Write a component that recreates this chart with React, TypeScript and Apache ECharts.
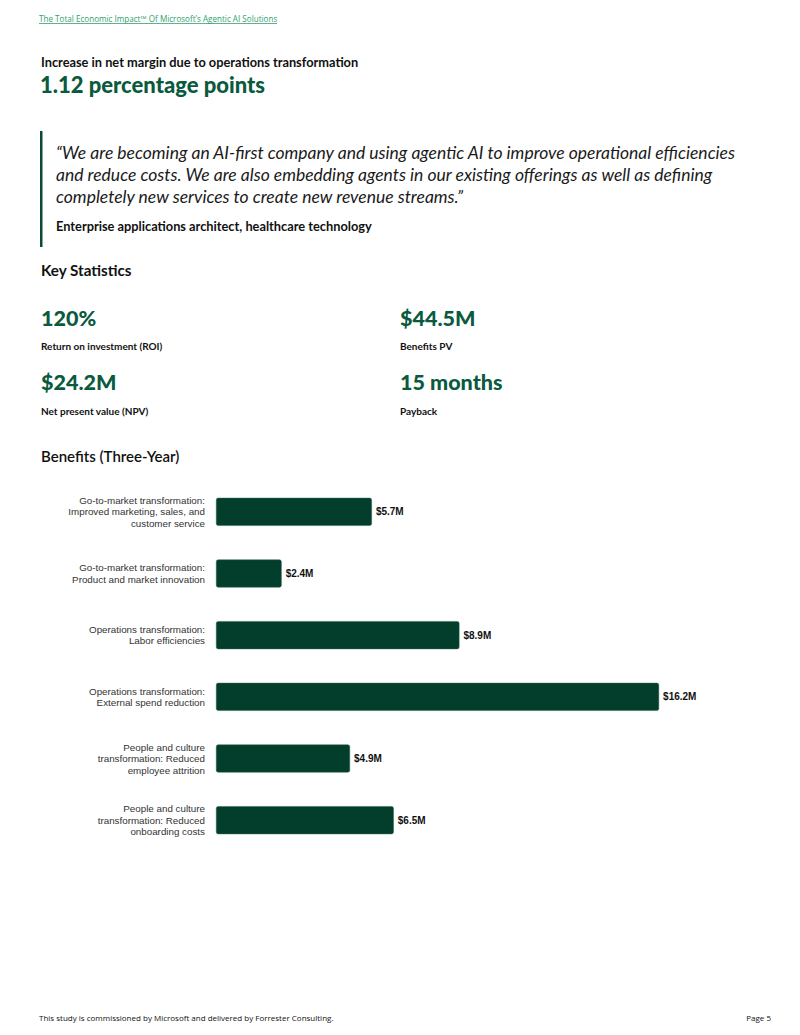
import React, { useEffect, useRef } from "react";
import * as echarts from "echarts";

const categories = [
  "Go-to-market transformation:\nImproved marketing, sales, and\ncustomer service",
  "Go-to-market transformation:\nProduct and market innovation",
  "Operations transformation:\nLabor efficiencies",
  "Operations transformation:\nExternal spend reduction",
  "People and culture\ntransformation: Reduced\nemployee attrition",
  "People and culture\ntransformation: Reduced\nonboarding costs",
];
const values = [5.7, 2.4, 8.9, 16.2, 4.9, 6.5];

const statValues = ["120%", "$44.5M", "$24.2M", "15 months"];
const statLabels = ["Return on investment (ROI)", "Benefits PV", "Net present value (NPV)", "Payback"];

const quoteLines = [
  "\u201cWe are becoming an AI-first company and using agentic AI to improve operational efficiencies",
  "and reduce costs. We are also embedding agents in our existing offerings as well as defining",
  "completely new services to create new revenue streams.\u201d",
];

const GREEN = "#0a5a3e";
const BAR = "#033d2c";
const HEAD = "Lato, 'Open Sans', sans-serif";
const CHARTF = "'Liberation Sans', Arial, sans-serif";

export default function App() {
  const ref = useRef<HTMLDivElement>(null);
  useEffect(() => {
    if (!ref.current) return;
    const chart = echarts.init(ref.current, null, { renderer: "svg" });
    const t = (text: string, x: number, y: number, size: number, weight: any, fill: string, extra: any = {}) => ({
      type: "text",
      x,
      y,
      style: { text, fontSize: size, fontWeight: weight, fill, fontFamily: HEAD, verticalAlign: "middle", ...extra },
    });
    const statPos = [
      [41, 318, 346],
      [400, 318, 346],
      [41, 382, 411],
      [400, 382, 411],
    ];
    const graphic: any[] = [
      t("The Total Economic Impact\u2122 Of Microsoft\u2019s Agentic AI Solutions", 39, 18, 8.1, "normal", "#33a06f", { fontFamily: "'Open Sans', sans-serif" }),
      { type: "line", shape: { x1: 39, y1: 23.5, x2: 277, y2: 23.5 }, style: { stroke: "#33a06f", lineWidth: 0.8 } },
      t("Increase in net margin due to operations transformation", 41, 62, 12.8, "bold", "#111"),
      t("1.12 percentage points", 40, 84, 22, 900, GREEN),
      { type: "rect", shape: { x: 40, y: 131, width: 2.5, height: 116 }, style: { fill: "#0d4a33" } },
      ...quoteLines.map((l, i) => t(l, 56, 152 + i * 22, 17.5, "normal", "#1a1a1a", { fontStyle: "italic" })),
      t("Enterprise applications architect, healthcare technology", 56, 226, 12.8, "bold", "#111"),
      t("Key Statistics", 41, 270, 15.2, "bold", "#111"),
      ...statValues.map((v, i) => t(v, statPos[i][0], statPos[i][1], 21.5, 900, GREEN)),
      ...statLabels.map((v, i) => t(v, statPos[i][0], statPos[i][2], 10, "bold", "#111")),
      t("Benefits (Three-Year)", 41, 456, 15, 600, "#111"),
      t("This study is commissioned by Microsoft and delivered by Forrester Consulting.", 39, 1017, 8, "normal", "#111", { fontFamily: "'Open Sans', sans-serif" }),
      t("Page 5", 771, 1017, 8, "normal", "#111", { fontFamily: "'Open Sans', sans-serif", align: "right" }),
    ];
    chart.setOption({
      animation: false,
      graphic,
      grid: { left: 216, top: 481, width: 547, height: 370, containLabel: false },
      xAxis: { type: "value", min: 0, max: 20, show: false },
      yAxis: {
        type: "category",
        data: categories,
        inverse: true,
        axisLine: { show: false },
        axisTick: { show: false },
        axisLabel: {
          margin: 11,
          fontSize: 9.8,
          lineHeight: 11.5,
          color: "#333",
          fontFamily: CHARTF,
          align: "right",
        },
      },
      series: [
        {
          type: "bar",
          data: values,
          barWidth: 28,
          itemStyle: { color: BAR, borderRadius: 2, borderColor: "#2f6b55", borderWidth: 0.5 },
          label: {
            show: true,
            position: "right",
            distance: 4,
            formatter: (p: any) => "$" + p.value + "M",
            fontSize: 10,
            fontWeight: "bold",
            color: "#111",
            fontFamily: CHARTF,
          },
        },
      ],
    });
    return () => chart.dispose();
  }, []);
  return (
    <div
      ref={ref}
      style={{ position: "absolute", left: 0, top: 0, width: 800, height: 1035, background: "#fff" }}
    />
  );
}
